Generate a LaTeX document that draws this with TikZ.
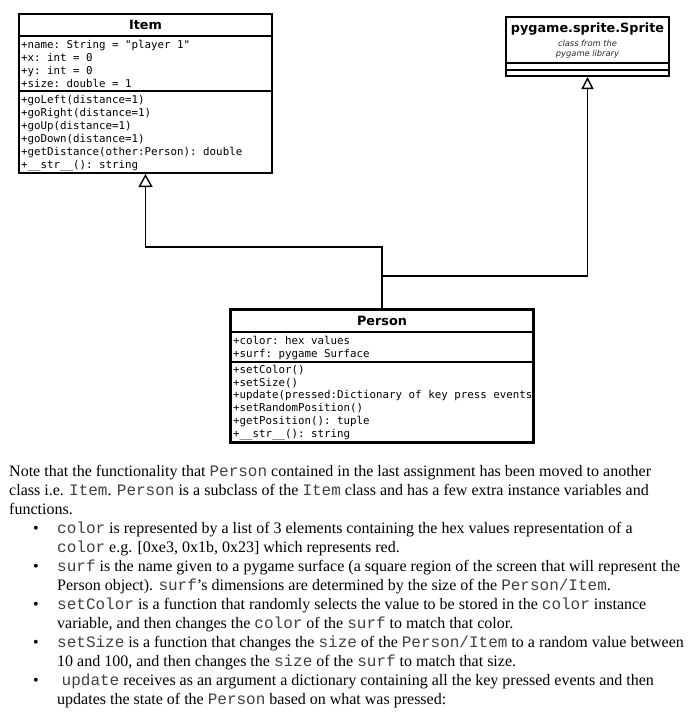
\documentclass[tikz,border=0pt]{standalone}
\usepackage{fontspec}
\setmainfont{Liberation Serif}
\setsansfont{DejaVu Sans}
\setmonofont{DejaVu Sans Mono}
\newfontfamily\courierfam{Liberation Mono}
\usetikzlibrary{arrows.meta}
\newcommand\ctt[1]{{\courierfam\color{black!75}#1}}
\tikzset{
  classbox/.style={draw=black, line width=2pt, fill=white, inner sep=0pt, rectangle},
  divline/.style={draw=black, line width=2pt},
  classtitle/.style={font=\sffamily\bfseries\fontsize{12.8}{14}\selectfont, inner sep=0pt},
  member/.style={font=\ttfamily\fontsize{10.8}{13}\selectfont, inner sep=0pt, anchor=base west},
  notetext/.style={font=\sffamily\itshape\fontsize{8.3}{11}\selectfont, text=black!85, inner sep=0pt},
  inherit/.style={draw=black, line width=1.4pt, -{Triangle[open, length=13pt, width=14pt, line width=1.4pt]}},
  para/.style={font=\fontsize{16}{19}\selectfont, inner sep=0pt, anchor=base west},
}
\begin{document}
\begin{tikzpicture}[x=1pt,y=-1pt]
\useasboundingbox (0,0) rectangle (696,720);
\fill[white] (0,0) rectangle (696,720);

% ---------- Item ----------
\node[classbox, minimum width=253pt, minimum height=159pt] (item) at (145.5,93.5) {};
\draw[divline] (19,36) -- (272,36);
\draw[divline] (19,91) -- (272,91);
\node[classtitle] (itemT) at (145.5,25) {Item};
\node[member] (ia1) at (21,48.5) {+name: String = "player 1"};
\node[member] (ia2) at (21,61.5) {+x: int = 0};
\node[member] (ia3) at (21,74.5) {+y: int = 0};
\node[member] (ia4) at (21,87.5) {+size: double = 1};
\node[member] (im1) at (21,103.5) {+goLeft(distance=1)};
\node[member] (im2) at (21,116.5) {+goRight(distance=1)};
\node[member] (im3) at (21,129.5) {+goUp(distance=1)};
\node[member] (im4) at (21,142.5) {+goDown(distance=1)};
\node[member] (im5) at (21,155.5) {+getDistance(other:Person): double};
\node[member] (im6) at (21,168.5) {+\_\_str\_\_(): string};

% ---------- Sprite ----------
\node[classbox, minimum width=163pt, minimum height=59pt] (sprite) at (587.5,46.5) {};
\draw[divline] (506,63) -- (669,63);
\draw[divline] (506,69.5) -- (669,69.5);
\node[classtitle] (spriteT) at (587.5,29) {pygame.sprite.Sprite};
\node[notetext] (spriteN1) at (587.5,43) {class from the};
\node[notetext] (spriteN2) at (587.5,54) {pygame library};

% ---------- Person ----------
\node[classbox, minimum width=302pt, minimum height=132pt] (person) at (382,376) {};
\draw[divline] (231,332) -- (533,332);
\draw[divline] (231,362) -- (533,362);
\node[classtitle] (personT) at (382,321) {Person};
\node[member] (pa1) at (233,344) {+color: hex values};
\node[member] (pa2) at (233,357.5) {+surf: pygame Surface};
\node[member] (pm1) at (233,373.5) {+setColor()};
\node[member] (pm2) at (233,386.2) {+setSize()};
\begin{scope}
\clip (231,362) rectangle (534,441);
\node[member] (pm3) at (233,398.9) {+update(pressed:Dictionary of key press events)};
\end{scope}
\node[member] (pm4) at (233,411.6) {+setRandomPosition()};
\node[member] (pm5) at (233,424.3) {+getPosition(): tuple};
\node[member] (pm6) at (233,437) {+\_\_str\_\_(): string};
\draw[line width=2pt] (person.north west) rectangle (person.south east);

% ---------- connectors ----------
\draw[inherit] (person.north) -- ++(0,-62) -| (item.south);
\draw[inherit, -{Triangle[open, length=12pt, width=12pt, line width=1.4pt]}] (person.north) ++(0,-33) -| (sprite.south);

% ---------- paragraph ----------
\node[para] (l1) at (9,476) {Note that the functionality that \ctt{Person} contained in the last assignment has been moved to another};
\node[para] (l2) at (9,495) {class i.e. \ctt{Item}. \ctt{Person} is a subclass of the \ctt{Item} class and has a few extra instance variables and};
\node[para] (l3) at (9,514) {functions.};
\node[para] (b1) at (33,533) {\textbullet};
\node[para] (t1a) at (57,533) {\ctt{color} is represented by a list of 3 elements containing the hex values representation of a};
\node[para] (t1b) at (57,552) {\ctt{color} e.g. [0xe3, 0x1b, 0x23] which represents red.};
\node[para] (b2) at (33,571) {\textbullet};
\node[para] (t2a) at (57,571) {\ctt{surf} is the name given to a pygame surface (a square region of the screen that will represent the};
\node[para] (t2b) at (57,590) {Person object). \ctt{surf}’s dimensions are determined by the size of the \ctt{Person/Item}.};
\node[para] (b3) at (33,609) {\textbullet};
\node[para] (t3a) at (57,609) {\ctt{setColor} is a function that randomly selects the value to be stored in the \ctt{color} instance};
\node[para] (t3b) at (57,628) {variable, and then changes the \ctt{color} of the \ctt{surf} to match that color.};
\node[para] (b4) at (33,647) {\textbullet};
\node[para] (t4a) at (57,647) {\ctt{setSize} is a function that changes the \ctt{size} of the \ctt{Person/Item} to a random value between};
\node[para] (t4b) at (57,666) {10 and 100, and then changes the \ctt{size} of the \ctt{surf} to match that size.};
\node[para] (b5) at (33,685) {\textbullet};
\node[para] (t5a) at (61.5,685) {\ctt{update} receives as an argument a dictionary containing all the key pressed events and then};
\node[para] (t5b) at (57,704) {updates the state of the \ctt{Person} based on what was pressed:};
\end{tikzpicture}
\end{document}
